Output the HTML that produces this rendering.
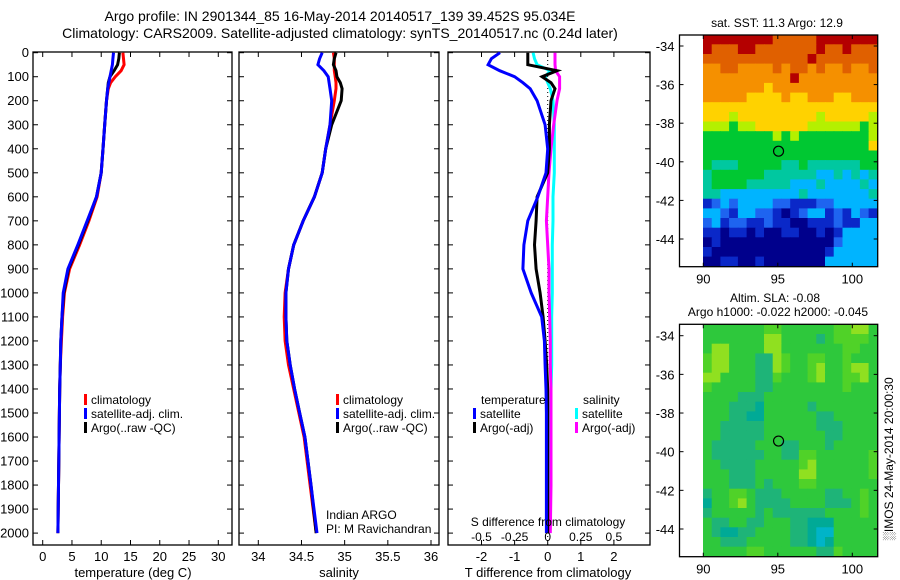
<!DOCTYPE html>
<html><head><meta charset="utf-8">
<style>
html,body{margin:0;padding:0;background:#fff;}
svg{display:block;font-family:"Liberation Sans",sans-serif;}
text{font-size:13px;fill:#000;}
</style></head>
<body>
<svg id="chart" width="900" height="580" viewBox="0 0 900 580" xmlns="http://www.w3.org/2000/svg">
<text x="340" y="21" text-anchor="middle" style="font-size:14px">Argo profile: IN 2901344_85 16-May-2014 20140517_139 39.452S 95.034E</text>
<text x="340" y="38" text-anchor="middle" style="font-size:14px">Climatology: CARS2009. Satellite-adjusted climatology: synTS_20140517.nc (0.24d later)</text>
<g id="g"></g>
</svg>
<script>
// ---- data ----
const depth = [0,25,50,75,100,125,150,200,300,400,500,600,700,800,900,1000,1100,1200,1300,1400,1500,1600,1800,2000];
const climT = [13.7,13.8,13.9,13.4,12.4,11.6,11.2,10.9,10.6,10.3,10.0,9.3,7.9,6.3,4.6,3.7,3.4,3.2,3.0,2.9,2.85,2.8,2.7,2.6];
const satT  = [12.1,12.0,11.9,11.7,11.5,11.3,11.1,10.9,10.6,10.3,10.0,9.2,7.6,6.0,4.3,3.5,3.3,3.1,3.0,2.9,2.85,2.8,2.7,2.6];
const argoT = [13.1,13.0,12.8,12.2,11.5,11.2,11.1,10.9,10.6,10.3,10.0,9.2,7.7,6.1,4.4,3.6,3.3,3.1,3.0,2.9,2.85,2.8,2.7,2.6];
const climS = [34.87,34.88,34.88,34.88,34.89,34.90,34.90,34.88,34.83,34.78,34.74,34.65,34.52,34.41,34.35,34.31,34.30,34.31,34.35,34.41,34.47,34.53,34.60,34.67];
const satS  = [34.74,34.71,34.69,34.76,34.81,34.82,34.83,34.85,34.83,34.78,34.74,34.65,34.52,34.41,34.35,34.32,34.32,34.33,34.37,34.42,34.48,34.54,34.61,34.68];
const argoS = [34.90,34.88,34.87,34.90,34.91,34.95,34.97,34.96,34.85,34.78,34.74,34.65,34.52,34.41,34.35,34.32,34.32,34.33,34.37,34.42,34.48,34.54,34.61,34.67];
const dTsat  = [-1.44,-1.7,-1.8,-1.45,-1.0,-0.75,-0.53,-0.32,-0.08,0,-0.05,-0.3,-0.6,-0.72,-0.75,-0.5,-0.18,-0.1,-0.08,-0.05,-0.04,-0.04,-0.04,-0.04];
const dTargo = [-0.6,-0.6,-0.6,0.28,-0.17,0.1,0.22,0.1,0.05,0.05,0.0,-0.32,-0.35,-0.4,-0.35,-0.23,-0.14,-0.08,-0.03,0,0,0,0,0];
const dSsat  = [-0.11,-0.1,-0.08,0.02,-0.02,0,0.02,0.04,0.05,0.05,0.05,0.04,0.04,0.035,0.035,0.035,0.03,0.03,0.03,0.025,0.02,0.02,0.015,0.015];
const dSargo = [0.055,0.055,0.055,0.06,0.09,0.09,0.09,0.07,0.045,0.025,0.01,0,-0.01,0,0.01,0.01,0.015,0.02,0.02,0.025,0.025,0.025,0.025,0.02];
const depthTicks = [0,100,200,300,400,500,600,700,800,900,1000,1100,1200,1300,1400,1500,1600,1700,1800,1900,2000];
const tempTicks = [0,5,10,15,20,25,30];
const salTicks = [34,34.5,35,35.5,36];
const salTickLabels = ["34","34.5","35","35.5","36"];
const dTTicks = [-2,-1,0,1,2];
const dSTicks = [-0.5,-0.25,0,0.25,0.5];
const dSTickLabels = ["-0.5","-0.25","0","0.25","0.5"];
const latTicks = [-34,-36,-38,-40,-42,-44];
const lonTicks = [90,95,100];
const argoLon = 95.05, argoLat = -39.45;
const sstPalette = ["#00008c","#0a28c8","#1e64f0","#00b4ff","#00c8a0","#00c832","#b4f000","#ffd200","#f59000","#b40000","#e06000"];
const slaPalette = ["#00b4c8","#00aa96","#1eb478","#2ec83c","#50d228","#90e020","#c8ec00"];
const sstRows = ["99999999aaaaa9999999","9aaa99aaaaaaa9aa9aaa","aaaaaaaaaaaa9aaaaaaa","88aa8888a8aa8a88a88a","88888888889888888888","88888887888888888888","88888777787788877888","77777777777777777777","77767777777776777776","66656677777766666656","55555555656555555556","55555555555555555557","55555555555555555555","54445555544544444455","45555554444443343434","45555444443334333343","44333333333433333334","12323333221112233333","33213322101233121321","23122112110011121133","11011010011001013333","01000000000000023333","10000000000000133333","00110010000000333333"];
const slaRows = ["33333334433333344553","33333335533332344443","35533335533333334433","45533322543344334333","45533322543345334553","55333322433345334453","43333322333333334333","33332223333333333333","33322213333323333333","33322113333332233333","33222223333332223333","33222223333333223333","32222233322333233333","32222223322443333334","33222233333453333334","33322233333553333334","33322232333443333333","23344322233333223343","13345322223333222343","23333323222222333343","32233223332211133333","32112233332210033333","33222333332210133333","33333443333332243333"];

// ---- scales ----
const yD = d => 52.7 + d*0.2402;
const xT = t => 42.7 + t*5.853;
const xS = s => 258.3 + (s-34)*86.35;
const xDT = v => 547.7 + v*33.1;
const xDS = v => 547.7 + v*132.4;
const mLon = l => 703.3 + (l-90)*14.9;
const mLatA = l => 46 + (-34-l)*19.3;
const mLatB = l => 335.7 + (-34-l)*19.33;

const NS="http://www.w3.org/2000/svg";
const G=document.getElementById('g');
function mk(tag,attrs,parent){const e=document.createElementNS(NS,tag);for(const k in attrs)e.setAttribute(k,attrs[k]);(parent||G).appendChild(e);return e;}
function txt(x,y,s,anchor,size){const e=mk('text',{x:x,y:y,'text-anchor':anchor||'start'});if(size)e.style.fontSize=size+'px';e.textContent=s;return e;}

function box(x0,y0,x1,y1,name){
  const r=mk('rect',{x:x0,y:y0,width:x1-x0,height:y1-y0,fill:'none',stroke:'#000','stroke-width':1.3});
  
  
}
function profile(xs,vals,fn,color,name,w){
  const pts=vals.map((v,i)=>fn(v).toFixed(1)+','+yD(depth[i]).toFixed(1)).join(' ');
  const p=mk('polyline',{points:pts,fill:'none',stroke:color,'stroke-width':w||3,'stroke-linejoin':'miter'});
  
  
}
function depthAxis(x0,x1,labels){
  depthTicks.forEach(d=>{
    const y=yD(d);
    mk('line',{x1:x0,y1:y,x2:x0+5,y2:y,stroke:'#000'});
    mk('line',{x1:x1-5,y1:y,x2:x1,y2:y,stroke:'#000'});
    if(labels){const t=txt(x0-4,y+4.5,String(d),'end');
      
      }
  });
}
function xAxis(ticks,labels,fn,yTop,yBot,labelY){
  ticks.forEach((v,i)=>{
    const x=fn(v);
    mk('line',{x1:x,y1:yTop,x2:x,y2:yTop+5,stroke:'#000'});
    mk('line',{x1:x,y1:yBot-5,x2:x,y2:yBot,stroke:'#000'});
    if(labels){const t=txt(x,labelY,labels[i],'middle');
      
      }
  });
}
function legendItem(x,y,color,label){
  mk('rect',{x:x,y:y-10,width:3,height:11,fill:color});
  const t=txt(x+7,y,label,'start',12);
  
  
}

const TOP=52, BOT=545;
// Panel 1 temperature
box(33,TOP,232,BOT,'temperature-panel');
depthAxis(33,232,true);
xAxis(tempTicks,tempTicks.map(String),xT,TOP,BOT,561);
profile(depth,climT,xT,'#f00','climatology-temperature-line');
profile(depth,argoT,xT,'#000','argo-temperature-line');
profile(depth,satT,xT,'#00f','satellite-temperature-line');
{const t=txt(133,577,'temperature (deg C)','middle');}
legendItem(84,404,'#f00','climatology');
legendItem(84,418,'#00f','satellite-adj. clim.');
legendItem(84,432,'#000','Argo(..raw -QC)');

// Panel 2 salinity
box(239,TOP,439,BOT,'salinity-panel');
depthAxis(239,439,false);
xAxis(salTicks,salTickLabels,xS,TOP,BOT,561);
profile(depth,climS,xS,'#f00','climatology-salinity-line');
profile(depth,argoS,xS,'#000','argo-salinity-line');
profile(depth,satS,xS,'#00f','satellite-salinity-line');
{const t=txt(339,577,'salinity','middle');}
legendItem(336,404,'#f00','climatology');
legendItem(336,418,'#00f','satellite-adj. clim.');
legendItem(336,432,'#000','Argo(..raw -QC)');
{const t=txt(326,519,'Indian ARGO','start',12);
 const u=txt(326,533,'PI: M Ravichandran','start',12);}

// Panel 3 differences
box(448,TOP,650,BOT,'difference-panel');
depthAxis(448,650,false);
xAxis(dTTicks,dTTicks.map(String),xDT,TOP,BOT,561);
mk('line',{x1:xDT(0),y1:TOP,x2:xDT(0),y2:BOT,stroke:'#000','stroke-dasharray':'1,3'});
profile(depth,dSsat,xDS,'#0ff','satellite-salinity-diff-line');
profile(depth,dSargo,xDS,'#f0f','argo-salinity-diff-line');
profile(depth,dTargo,xDT,'#000','argo-temperature-diff-line');
profile(depth,dTsat,xDT,'#00f','satellite-temperature-diff-line');
dSTicks.forEach((v,i)=>{const t=txt(xDS(v),541,dSTickLabels[i],'middle',12);});
{const t=txt(548,526,'S difference from climatology','middle',12);
 const u=txt(548,577,'T difference from climatology','middle');
 const a=txt(481,404,'temperature','start',12);
 const b=txt(583,404,'salinity','start',12);}
legendItem(473,418,'#00f','satellite');
legendItem(473,432,'#000','Argo(-adj)');
legendItem(575,418,'#0ff','satellite');
legendItem(575,432,'#f0f','Argo(-adj)');

// Maps
function drawMap(rows,pal,latFn,y0,y1,name){
  const x0=679.5,x1=877.7,lonMin=90,lonMax=101.7,latTop=-33.43,latBot=-45.43;
  const nC=rows[0].length,nR=rows.length;
  const cw=(lonMax-lonMin)/nC, ch=(latTop-latBot)/nR;
  const g=mk('g',{});
  
  
  rows.forEach((row,r)=>{
    for(let c=0;c<nC;c++){
      const lonA=lonMin+c*cw, latA=latTop-r*ch;
      const xa=mLon(lonA)-0.3, xb=Math.min(mLon(lonA+cw)+0.3,x1);
      const ya=Math.max(latFn(latA),y0)-0.3, yb=Math.min(latFn(latA-ch),y1)+0.3;
      mk('rect',{x:xa.toFixed(1),y:ya.toFixed(1),width:(xb-xa).toFixed(1),height:(yb-ya).toFixed(1),fill:pal[parseInt(row[c],16)]},g);
    }
  });
  box(x0,y0,x1,y1,name+'-frame');
  latTicks.forEach(l=>{const y=latFn(l);
    mk('line',{x1:x0,y1:y,x2:x0+4,y2:y,stroke:'#000'});mk('line',{x1:x1-4,y1:y,x2:x1,y2:y,stroke:'#000'});
    const t=txt(x0-5,y+5,String(l),'end');});
  lonTicks.forEach(l=>{const x=mLon(l);
    mk('line',{x1:x,y1:y0,x2:x,y2:y0+4,stroke:'#000'});mk('line',{x1:x,y1:y1-4,x2:x,y2:y1,stroke:'#000'});
    const t=txt(x,y1+17,String(l),'middle');});
  const c=mk('circle',{cx:mLon(argoLon),cy:latFn(argoLat),r:5,fill:'none',stroke:'#000','stroke-width':1.2});
  
  
}
drawMap(sstRows,sstPalette,mLatA,35,266.7,'sst-map');
drawMap(slaRows,slaPalette,mLatB,324.3,556.7,'sla-map');
{const t=txt(777,27,'sat. SST: 11.3 Argo: 12.9','middle',12);
 const a=txt(775,302,'Altim. SLA: -0.08','middle',12);
 const b=txt(778,316,'Argo h1000: -0.022 h2000: -0.045','middle',12);
 const v=txt(0,0,'\u2591IMOS 24-May-2014 20:00:30','middle',12);v.setAttribute('transform','translate(893,459) rotate(-90)');}
</script>
</body></html>
